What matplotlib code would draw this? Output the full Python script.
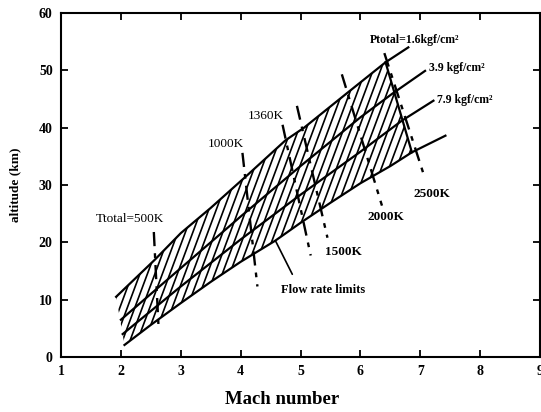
import matplotlib.pyplot as plt
import numpy as np
from matplotlib.patches import Polygon

plt.rcParams["font.family"] = ["Liberation Serif", "DejaVu Serif"]

# pressure lines (Mach number, altitude km)
mach_p16 = [1.92, 2.56, 3.0, 3.5, 4.11, 4.75, 5.06, 5.75, 6.42, 6.8]
alt_p16 = [10.5, 16.9, 21.6, 26.0, 31.7, 37.8, 40.0, 45.8, 51.4, 54.0]
mach_p39 = [2.0, 3.0, 4.0, 5.0, 6.0, 6.53, 7.08]
alt_p39 = [6.5, 15.5, 24.5, 33.3, 41.8, 45.9, 49.9]
mach_p79 = [2.03, 3.0, 4.0, 5.0, 6.0, 6.69, 7.22]
alt_p79 = [4.0, 12.3, 20.5, 28.3, 35.8, 41.2, 44.7]
mach_low = [2.06, 2.5, 3.0, 3.5, 4.0, 4.58, 5.0, 5.5, 6.0, 6.5, 6.86, 7.42]
alt_low = [2.1, 5.6, 9.4, 13.1, 16.6, 20.3, 23.4, 26.9, 30.3, 33.3, 35.7, 38.6]

# total temperature lines: end points
iso_names = ["Ttotal=500K", "1000K", "1360K", "1500K", "2000K", "2500K"]
iso_mach_top = [2.55, 4.03, 4.70, 4.94, 5.69, 6.40]
iso_alt_top = [21.8, 35.6, 40.5, 43.8, 49.3, 53.0]
iso_mach_bot = [2.63, 4.28, 5.17, 5.45, 6.36, 7.08]
iso_alt_bot = [5.0, 12.3, 17.7, 20.8, 26.4, 31.1]
iso_label_x = [2.15, 3.75, 4.42, 5.72, 6.42, 7.19]
iso_label_y = [24.1, 37.2, 42.0, 18.3, 24.4, 28.5]

fig = plt.figure(figsize=(5.41, 4.12), dpi=100)
ax = fig.add_axes([0.1128, 0.1335, 0.8854, 0.835])
ax.set_xlim(1, 9)
ax.set_ylim(0, 60)

# hatched operating envelope, closed by the 2500K line
corner_u = mach_p16.index(6.42) + 1
corner_l = mach_low.index(6.86) + 1
verts = list(zip(mach_p16[:corner_u], alt_p16[:corner_u])) + \
    list(zip(mach_low[:corner_l], alt_low[:corner_l]))[::-1]
band = Polygon(verts, closed=True, facecolor="none", edgecolor="none")
ax.add_patch(band)
slope = 28.0
for x0 in np.arange(1.3, 7.0, 0.125):
    hatch, = ax.plot([x0, x0 + 60 / slope], [0, 60], color="black", lw=1.2)
    hatch.set_clip_path(band)

for xs, ys in ((mach_p16, alt_p16), (mach_p39, alt_p39), (mach_p79, alt_p79), (mach_low, alt_low)):
    ax.plot(xs, ys, color="black", lw=1.6)

for i, name in enumerate(iso_names):
    ax.plot([iso_mach_top[i], iso_mach_bot[i]], [iso_alt_top[i], iso_alt_bot[i]],
            color="black", lw=1.7, ls=(0, (6, 3, 2, 3)))
    ax.text(iso_label_x[i], iso_label_y[i], name, ha="center", va="center", fontsize=9.5,
            fontweight="bold" if name in ("2000K", "2500K", "1500K") else "normal")
ax.plot([mach_p16[corner_u - 1], mach_low[corner_l - 1]], [alt_p16[corner_u - 1], alt_low[corner_l - 1]],
        color="black", lw=1.6)

ax.text(6.91, 55.2, "Ptotal=1.6kgf/cm²", ha="center", va="center", fontsize=8.5, fontweight="bold")
ax.text(7.15, 50.4, "3.9 kgf/cm²", ha="left", va="center", fontsize=8.5, fontweight="bold")
ax.text(7.28, 44.9, "7.9 kgf/cm²", ha="left", va="center", fontsize=8.5, fontweight="bold")
ax.annotate("Flow rate limits", xy=(4.58, 20.3), xytext=(5.37, 11.6), ha="center", va="center",
            fontsize=9, fontweight="bold",
            arrowprops=dict(arrowstyle="-", color="black", lw=1.2, shrinkA=6, shrinkB=0,
                            relpos=(0.2, 1.0)))

ax.set_xticks(range(1, 10))
ax.set_yticks(range(0, 61, 10))
ax.tick_params(direction="in", top=True, right=True, length=5, width=1.3, labelsize=10, pad=6)
for lbl in ax.get_xticklabels() + ax.get_yticklabels():
    lbl.set_fontweight("bold")
for spine in ax.spines.values():
    spine.set_linewidth(1.5)
ax.set_xlabel("Mach number", fontsize=13.5, fontweight="bold")
ax.xaxis.set_label_coords(0.461, -0.1)
ax.set_ylabel("altitude (km)", fontsize=9.5, fontweight="bold")
ax.yaxis.set_label_coords(-0.083, 0.5)

fig.savefig("out.png", dpi=100)
